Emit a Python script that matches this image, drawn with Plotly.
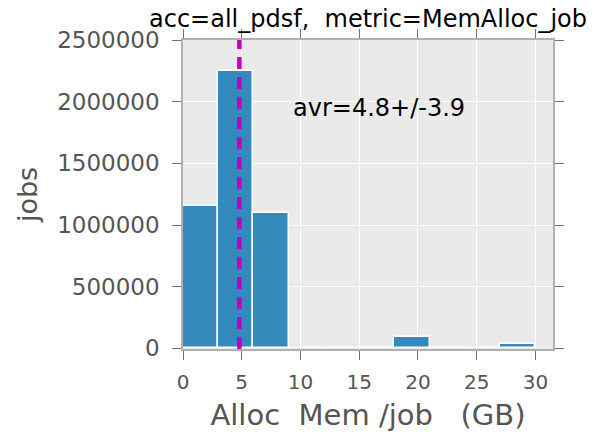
import plotly.graph_objects as go

bin_edges = [0, 3, 6, 9, 12, 15, 18, 21, 24, 27, 30]
counts = [1154000, 2249000, 1095000, 6000, 2000, 2000, 90000, 2000, 2000, 32000]
mean_val = 4.8
title_text = "acc=all_pdsf,  metric=MemAlloc_job"
annot_text = "avr=4.8+/-3.9"
x_ticks = [0, 5, 10, 15, 20, 25, 30]
y_ticks = [0, 500000, 1000000, 1500000, 2000000, 2500000]

centers = [(bin_edges[i] + bin_edges[i + 1]) / 2 for i in range(len(counts))]
widths = [bin_edges[i + 1] - bin_edges[i] for i in range(len(counts))]

fig = go.Figure()
fig.add_trace(go.Bar(
    x=centers, y=counts, width=widths,
    marker=dict(color="#348ABD", line=dict(color="white", width=1.5)),
    showlegend=False,
))
fig.add_shape(type="line", xref="x", yref="paper", x0=mean_val, x1=mean_val, y0=0, y1=1,
              line=dict(color="#BF00BF", width=4.5, dash="12px,8px"))
fig.add_annotation(x=9.2, y=1950000, xref="x", yref="y", text=annot_text, showarrow=False,
                   xanchor="left", yanchor="middle", font=dict(size=24, color="black"))

axis_common = dict(showgrid=True, gridcolor="white", gridwidth=1.2, showline=True,
                   linecolor="#b0b0b0", linewidth=1.5, ticks="outside", ticklen=9,
                   tickcolor="#707070", tickwidth=1.2, mirror="ticks", zeroline=False)
fig.update_xaxes(range=[0, 31.5], tickvals=x_ticks, tickfont=dict(size=20, color="#555555"),
                 ticklabelstandoff=5,
                 title=dict(text="Alloc  Mem /job   (GB)", font=dict(size=29, color="#555555"), standoff=12),
                 **axis_common)
fig.update_yaxes(range=[-5000, 2500000], tickvals=y_ticks, tickformat="d",
                 tickfont=dict(size=23, color="#555555"), ticklabelstandoff=8,
                 title=dict(text="jobs", font=dict(size=27, color="#555555"), standoff=12),
                 **axis_common)
fig.update_layout(
    width=595, height=434,
    margin=dict(l=183, r=42, t=40, b=85, autoexpand=False),
    paper_bgcolor="white", plot_bgcolor="#EAEAEA",
    font=dict(family="DejaVu Sans"),
    title=dict(text=title_text, x=0.5, xref="paper", xanchor="center",
               y=(434 - 19) / 434, yref="container", yanchor="middle",
               font=dict(size=24, color="black")),
    bargap=0,
)
fig.write_html("out.html", config={"displayModeBar": False},
               post_script="document.body.style.margin='0';document.body.style.padding='0';")
